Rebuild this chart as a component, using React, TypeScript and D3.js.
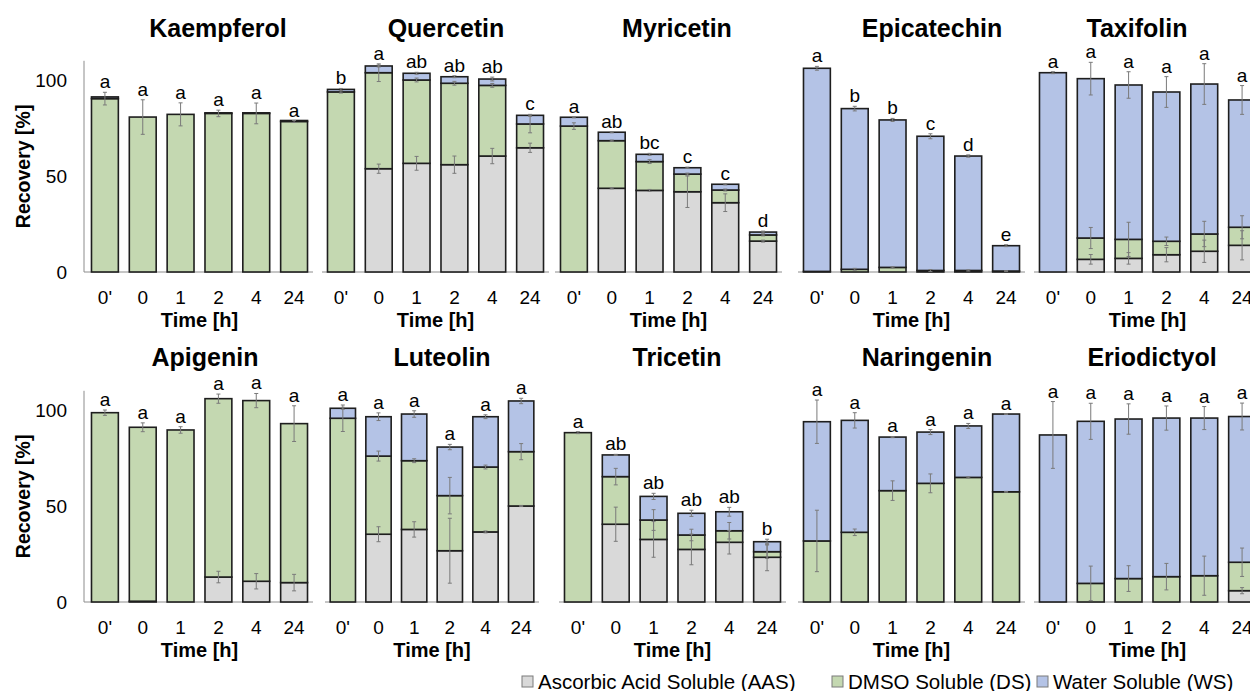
import React from 'react';
import * as d3 from 'd3';

// sampling times (0' = before digestion)
const times = ["0'", '0', '1', '2', '4', '24'];

const compounds = [
  'Kaempferol', 'Quercetin', 'Myricetin', 'Epicatechin', 'Taxifolin',
  'Apigenin', 'Luteolin', 'Tricetin', 'Naringenin', 'Eriodictyol',
];

// Ascorbic Acid Soluble (AAS)
const aas = [
  [0, 0, 0, 0, 0, 0],
  [0, 53.8, 56.6, 55.9, 60.4, 64.7],
  [0, 43.6, 42.5, 41.8, 36.1, 16.1],
  [0, 0, 0, 0, 0, 0],
  [0, 6.6, 7.1, 9, 10.8, 13.9],
  [0, 0.4, 0, 13, 10.8, 10.1],
  [0, 35.3, 37.8, 26.7, 36.5, 50],
  [0, 40.5, 32.6, 27.4, 31.1, 23.3],
  [0, 0, 0, 0, 0, 0],
  [0, 0, 0, 0, 0, 5.9],
];

// DMSO Soluble (DS)
const ds = [
  [90.3, 80.7, 82.1, 82.6, 82.6, 78.4],
  [93.8, 50, 43.4, 42.4, 36.8, 12.4],
  [76, 24.8, 15, 9.2, 6.6, 3.2],
  [0.3, 1.4, 2.4, 0.8, 0.8, 0.5],
  [0, 11.1, 9.9, 7, 9, 9.4],
  [98.6, 90.6, 89.6, 92.9, 94.1, 82.8],
  [95.7, 40.7, 35.8, 28.7, 33.8, 28.3],
  [88.2, 24.8, 10.1, 7.5, 6, 2.9],
  [31.8, 36.3, 58, 61.8, 64.9, 57.4],
  [0, 9.7, 12.2, 13.2, 13.7, 14.8],
];

// Water Soluble (WS)
const ws = [
  [0.9, 0, 0, 0.3, 0.3, 0.5],
  [1.3, 3.5, 3.5, 3.4, 3.3, 4.5],
  [4.6, 4.4, 3.8, 3.3, 3, 1.5],
  [105.8, 83.7, 76.8, 69.9, 59.6, 13.2],
  [103.8, 83, 80.4, 77.75, 78.1, 66.3],
  [0, 0, 0, 0, 0, 0],
  [5.2, 20.5, 24.3, 25.3, 26.2, 26.4],
  [0, 11.3, 12.3, 11.3, 9.9, 5.2],
  [62.1, 58.3, 27.9, 26.7, 26.8, 40.5],
  [87, 84.4, 83.1, 82.6, 82.1, 75.9],
];

// standard deviations
const aasErr = [
  [0, 0, 0, 0, 0, 0],
  [0, 2.4, 3.6, 4.5, 4, 2.4],
  [0, 0.3, 0.5, 8.2, 4.6, 0.5],
  [0, 0, 0, 0, 0, 0],
  [0, 2.5, 3, 3.7, 5.8, 7.6],
  [0, 0, 0, 3, 4, 4.3],
  [0, 3.9, 4, 16.9, 0.5, 0.3],
  [0, 8.9, 9.3, 8, 6.1, 7],
  [0, 0, 0, 0, 0, 0],
  [0, 0, 0, 0, 0, 1.6],
];
const dsErr = [
  [3.3, 9, 6, 1.7, 5.4, 0.5],
  [0.6, 4.6, 1, 1, 1, 4.6],
  [1.7, 0.3, 1, 0.5, 0.5, 0.5],
  [0, 0.5, 0.3, 0.5, 0.3, 0.2],
  [0, 5.5, 8.9, 2.2, 6.6, 6],
  [1.4, 2.3, 1.7, 2.4, 3.7, 9.3],
  [6.9, 2.6, 1, 9.5, 1, 4.2],
  [0.5, 4.3, 5.4, 3, 4.3, 3.5],
  [16, 1.7, 5.1, 4.9, 0.3, 0.2],
  [0, 9, 6.7, 6.9, 10.2, 7.4],
];
const wsErr = [
  [0, 0, 0, 0, 0, 0],
  [0.5, 0.5, 0.5, 0.5, 1, 0.5],
  [0.3, 0.3, 0.5, 0.3, 0.3, 0.5],
  [1, 1.2, 0.8, 1.3, 0.6, 0.5],
  [0.5, 8.5, 6.9, 8, 10.6, 7.5],
  [0, 0, 0, 0, 0, 0],
  [0.5, 2, 1.7, 1.4, 1, 1.4],
  [0, 0.3, 1.6, 1.6, 2.3, 1.3],
  [11.3, 4, 0.3, 1.3, 1.3, 0.2],
  [17.4, 9.4, 7.9, 6.3, 6, 7],
];

const letters = [
  ['a', 'a', 'a', 'a', 'a', 'a'],
  ['b', 'a', 'ab', 'ab', 'ab', 'c'],
  ['a', 'ab', 'bc', 'c', 'c', 'd'],
  ['a', 'b', 'b', 'c', 'd', 'e'],
  ['a', 'a', 'a', 'a', 'a', 'a'],
  ['a', 'a', 'a', 'a', 'a', 'a'],
  ['a', 'a', 'a', 'a', 'a', 'a'],
  ['a', 'ab', 'ab', 'ab', 'ab', 'b'],
  ['a', 'a', 'a', 'a', 'a', 'a'],
  ['a', 'a', 'a', 'a', 'a', 'a'],
];

const yTicks = [0, 50, 100];
const seriesNames = ['Ascorbic Acid Soluble (AAS)', 'DMSO Soluble (DS)', 'Water Soluble (WS)'];
const colors = ['#d9d9d9', '#c4d8b1', '#b4c3e6'];

// panel layout: x band ranges, title centres, row baselines
const panelX = [
  [86, 313], [322, 549], [555, 782], [798, 1025], [1034, 1261],
  [86, 313], [325, 539], [559, 786], [798, 1025], [1034, 1261],
];
const titleX = [218, 446, 677, 932, 1137, 205, 442, 677, 927, 1152];
const rowBase = [272, 602];

const FONT = 'Liberation Sans, Arial, sans-serif';

const Panel = ({ i }: { i: number }) => {
  const row = i < 5 ? 0 : 1;
  const base = rowBase[row];
  const [x0, x1] = panelX[i];
  const x = d3.scaleBand<string>().domain(times).range([x0, x1]).paddingInner(0.29).paddingOuter(0.145);
  const y = d3.scaleLinear().domain([0, 110]).range([base, base - 110 * 1.92]);
  const segs = [aas[i], ds[i], ws[i]];
  const errs = [aasErr[i], dsErr[i], wsErr[i]];

  return (
    <g>
      <text x={titleX[i]} y={row === 0 ? 37 : 366} textAnchor="middle" fontFamily={FONT}
        fontWeight="bold" fontSize={25}>{compounds[i]}</text>
      {i % 5 === 0 && (
        <g>
          <line x1={84} x2={84} y1={y(110)} y2={y(0)} stroke="#8c8c8c" />
          {yTicks.map(t => (
            <text key={t} x={67} y={y(t) + 7} textAnchor="end" fontFamily={FONT} fontSize={19}>{t}</text>
          ))}
          <text transform={`translate(30,${y(55)}) rotate(-90)`} textAnchor="middle" fontFamily={FONT}
            fontWeight="bold" fontSize={19.5}>Recovery [%]</text>
        </g>
      )}
      <line x1={i % 5 === 0 ? 84 : x0} x2={x1} y1={base} y2={base} stroke="#8c8c8c" />
      {times.map((t, j) => {
        const bx = x(t)!;
        const bw = x.bandwidth();
        const cx = bx + bw / 2;
        let cum = 0;
        let topMost = 0;
        const rects: React.ReactNode[] = [];
        const bars: React.ReactNode[] = [];
        segs.forEach((s, k) => {
          const v = s[j];
          if (v <= 0) return;
          const lo = cum;
          cum += v;
          rects.push(
            <rect key={'r' + k} x={bx} width={bw} y={y(cum)} height={y(lo) - y(cum)}
              fill={colors[k]} stroke="#1e1e1e" strokeWidth={1.6} />
          );
          const e = errs[k][j];
          topMost = Math.max(topMost, cum + e);
          if (e > 0) {
            bars.push(
              <g key={'e' + k} stroke="#7a7a7a" strokeWidth={1}>
                <line x1={cx} x2={cx} y1={y(cum + e)} y2={y(cum - e)} />
                <line x1={cx - 2} x2={cx + 2} y1={y(cum + e)} y2={y(cum + e)} />
                <line x1={cx - 2} x2={cx + 2} y1={y(cum - e)} y2={y(cum - e)} />
              </g>
            );
          }
        });
        return (
          <g key={t}>
            {rects}
            {bars}
            <text x={cx} y={y(topMost) - 4} textAnchor="middle" fontFamily={FONT} fontSize={19}>{letters[i][j]}</text>
            <text x={cx} y={base + 32} textAnchor="middle" fontFamily={FONT} fontSize={19}>{t}</text>
          </g>
        );
      })}
      <text x={(x0 + x1) / 2} y={base + 55} textAnchor="middle" fontFamily={FONT}
        fontWeight="bold" fontSize={20}>Time [h]</text>
    </g>
  );
};

const legendX = [522, 832, 1037];

export default function App() {
  return (
    <svg width={1250} height={691} style={{ position: 'absolute', left: 0, top: 0, background: '#fff' }}>
      <rect width={1250} height={691} fill="#fff" />
      {compounds.map((c, i) => <Panel key={c} i={i} />)}
      {seriesNames.map((s, k) => (
        <g key={s}>
          <rect x={legendX[k]} y={676} width={11} height={11} fill={colors[k]} stroke="#7a7a7a" strokeWidth={1} />
          <text x={legendX[k] + 16} y={689} fontFamily={FONT} fontSize={20.5}>{s}</text>
        </g>
      ))}
    </svg>
  );
}
